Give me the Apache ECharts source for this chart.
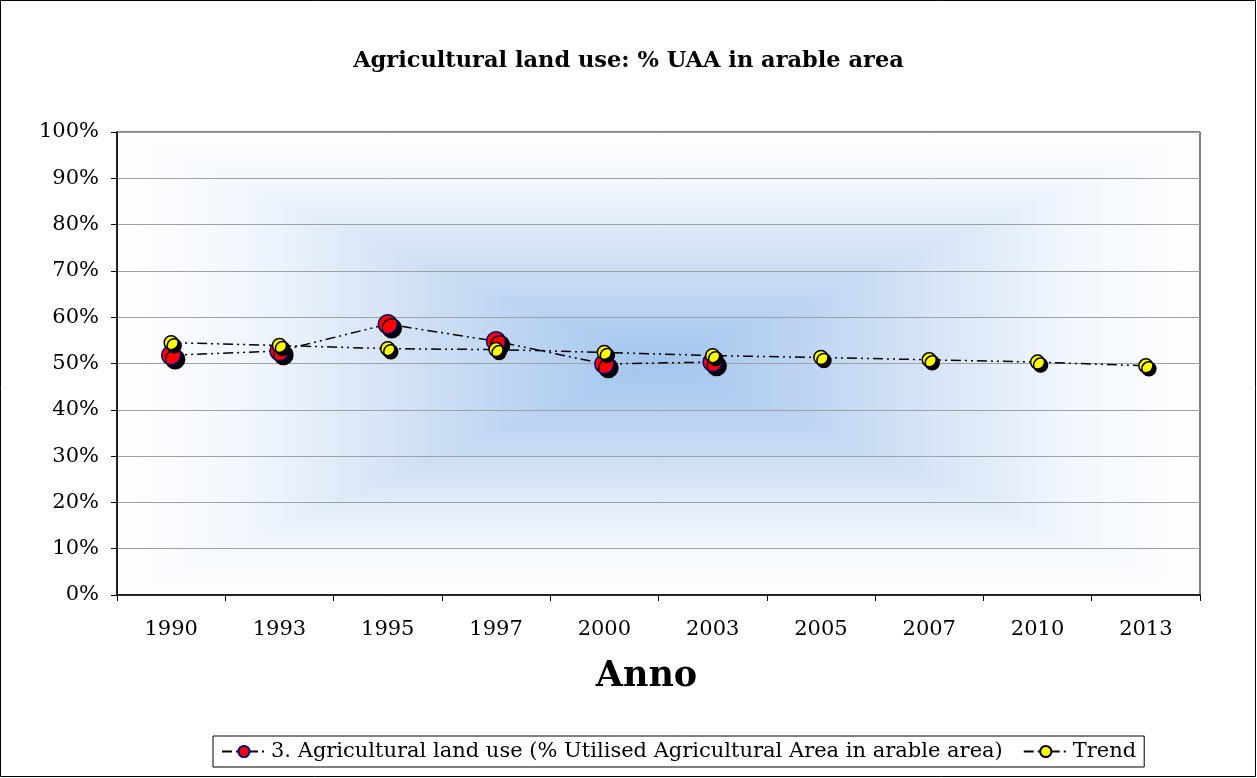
<!DOCTYPE html>
<html>
<head>
<meta charset="utf-8">
<script src="https://cdn.jsdelivr.net/npm/echarts@6/dist/echarts.min.js"></script>
<style>
html,body{margin:0;padding:0;background:#fff;}
#chart{width:1257px;height:778px;}
</style>
</head>
<body>
<div id="chart"></div>
<script>
var years = ['1990','1993','1995','1997','2000','2003','2005','2007','2010','2013'];
var landUse = [51.8, 52.7, 58.5, 54.8, 49.9, 50.3, null, null, null, null];
var trend = [54.5, 53.9, 53.2, 53.0, 52.4, 51.7, 51.3, 50.8, 50.3, 49.5];
var yTicks = [0, 10, 20, 30, 40, 50, 60, 70, 80, 90, 100];
var seriesNames = ['3. Agricultural land use (% Utilised Agricultural Area in arable area)', 'Trend'];

var G = {left: 117, top: 132, right: 1200, bottom: 595};
var cx = (G.left + G.right) / 2, cy = (G.top + G.bottom) / 2;
function grad(x, y, x2, y2) {
  return {type: 'linear', x: x, y: y, x2: x2, y2: y2,
    colorStops: [
      {offset: 0, color: '#ffffff'},
      {offset: 0.25, color: '#f1f6fd'},
      {offset: 0.6, color: '#cbddf4'},
      {offset: 1, color: '#a2c5ee'}
    ]};
}
function tri(points, g) {
  return {type: 'polygon', z: -10, silent: true, shape: {points: points},
    style: {fill: g, stroke: g, lineWidth: 1.2}};
}
var serif = 'DejaVu Serif';
var chart = echarts.init(document.getElementById('chart'), null, {renderer: 'canvas'});
chart.setOption({
  animation: false,
  backgroundColor: '#ffffff',
  title: {
    text: 'Agricultural land use: % UAA in arable area',
    left: 'center', top: 45,
    textStyle: {fontFamily: serif, fontWeight: 'bold', fontSize: 22.5, color: '#000'}
  },
  graphic: {elements: [
    {type: 'rect', z: -20, silent: true, shape: {x: 0.5, y: 0.5, width: 1255, height: 776},
      style: {fill: '#fff', stroke: '#000', lineWidth: 1}},
    tri([[G.left, G.top], [G.right, G.top], [cx, cy]], grad(0, 0, 0, 1)),
    tri([[G.left, G.bottom], [G.right, G.bottom], [cx, cy]], grad(0, 1, 0, 0)),
    tri([[G.left, G.top], [G.left, G.bottom], [cx, cy]], grad(0, 0, 1, 0)),
    tri([[G.right, G.top], [G.right, G.bottom], [cx, cy]], grad(1, 0, 0, 0))
  ]},
  grid: {
    left: G.left, top: G.top, right: 1257 - G.right, bottom: 778 - G.bottom,
    show: true, borderColor: '#000', borderWidth: 1, backgroundColor: 'transparent'
  },
  legend: {
    data: seriesNames,
    bottom: 11, left: 213,
    borderColor: '#000', borderWidth: 1, padding: [5, 8],
    itemWidth: 44, itemHeight: 14, itemGap: 20,
    textStyle: {fontFamily: serif, fontSize: 21, color: '#000'}
  },
  xAxis: {
    type: 'category', data: years, boundaryGap: true,
    name: 'Anno', nameLocation: 'middle', nameGap: 64,
    nameTextStyle: {fontFamily: serif, fontWeight: 'bold', fontSize: 35, color: '#000', padding: [0, 24, 0, 0]},
    axisLine: {lineStyle: {color: '#000', width: 1.5}},
    axisTick: {show: true, length: 6, alignWithLabel: false, lineStyle: {color: '#000'}},
    axisLabel: {fontFamily: serif, fontSize: 21, color: '#000', margin: 24}
  },
  yAxis: {
    type: 'value', min: yTicks[0], max: yTicks[yTicks.length - 1], interval: 10,
    axisLine: {show: true, lineStyle: {color: '#000', width: 1.5}},
    axisTick: {show: true, length: 6, lineStyle: {color: '#000'}},
    axisLabel: {fontFamily: serif, fontSize: 21, color: '#000', margin: 18, formatter: '{value}%'},
    splitLine: {show: true, lineStyle: {color: '#a0a0a0', width: 1}}
  },
  series: [
    {
      name: seriesNames[0], type: 'line', data: landUse, connectNulls: false,
      symbol: 'circle', symbolSize: 19,
      lineStyle: {color: '#000', width: 1.5, type: [10, 4, 2, 4, 2, 4]},
      itemStyle: {color: '#ff0000', borderColor: '#000080', borderWidth: 1.5,
        shadowColor: '#000', shadowOffsetX: 4, shadowOffsetY: 4, shadowBlur: 0}
    },
    {
      name: seriesNames[1], type: 'line', data: trend,
      symbol: 'circle', symbolSize: 14,
      lineStyle: {color: '#000', width: 1.5, type: [10, 4, 2, 4, 2, 4]},
      itemStyle: {color: '#ffff00', borderColor: '#000', borderWidth: 1.5,
        shadowColor: '#000', shadowOffsetX: 3, shadowOffsetY: 3, shadowBlur: 0}
    }
  ]
});
</script>
</body>
</html>
